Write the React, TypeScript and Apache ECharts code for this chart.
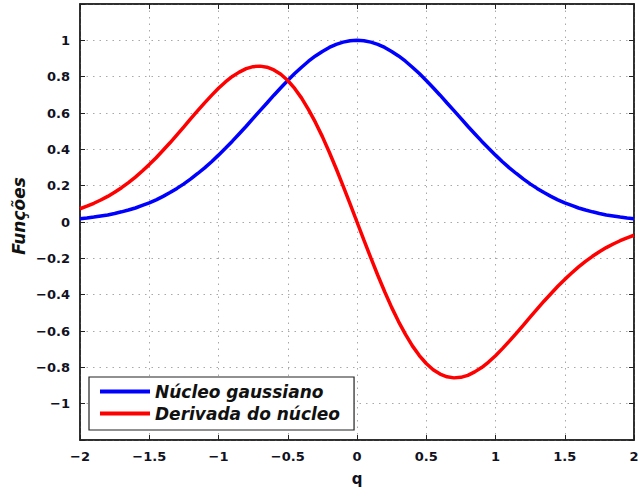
import React, { useEffect, useRef } from "react";
import * as echarts from "echarts";

const qValues = [
  -2.0, -1.95, -1.9, -1.85, -1.8, -1.75, -1.7, -1.65, -1.6, -1.55, -1.5, -1.45, -1.4, -1.35, -1.3, -1.25, -1.2, -1.15,
  -1.1, -1.05, -1.0, -0.95, -0.9, -0.85, -0.8, -0.75, -0.7, -0.65, -0.6, -0.55, -0.5, -0.45, -0.4, -0.35, -0.3, -0.25,
  -0.2, -0.15, -0.1, -0.05, 0.0, 0.05, 0.1, 0.15, 0.2, 0.25, 0.3, 0.35, 0.4, 0.45, 0.5, 0.55, 0.6, 0.65, 0.7, 0.75, 0.8,
  0.85, 0.9, 0.95, 1.0, 1.05, 1.1, 1.15, 1.2, 1.25, 1.3, 1.35, 1.4, 1.45, 1.5, 1.55, 1.6, 1.65, 1.7, 1.75, 1.8, 1.85,
  1.9, 1.95, 2.0,
];
const gaussian = [
  0.018, 0.022, 0.027, 0.033, 0.039, 0.047, 0.056, 0.066, 0.077, 0.091, 0.105, 0.122, 0.141, 0.162, 0.185, 0.21, 0.237,
  0.267, 0.298, 0.332, 0.368, 0.406, 0.445, 0.486, 0.527, 0.57, 0.613, 0.655, 0.698, 0.739, 0.779, 0.817, 0.852, 0.885,
  0.914, 0.939, 0.961, 0.978, 0.99, 0.998, 1.0, 0.998, 0.99, 0.978, 0.961, 0.939, 0.914, 0.885, 0.852, 0.817, 0.779,
  0.739, 0.698, 0.655, 0.613, 0.57, 0.527, 0.486, 0.445, 0.406, 0.368, 0.332, 0.298, 0.267, 0.237, 0.21, 0.185, 0.162,
  0.141, 0.122, 0.105, 0.091, 0.077, 0.066, 0.056, 0.047, 0.039, 0.033, 0.027, 0.022, 0.018,
];
const derivative = [
  0.073, 0.087, 0.103, 0.121, 0.141, 0.164, 0.189, 0.217, 0.247, 0.281, 0.316, 0.354, 0.395, 0.436, 0.48, 0.524, 0.569,
  0.613, 0.656, 0.697, 0.736, 0.771, 0.801, 0.825, 0.844, 0.855, 0.858, 0.852, 0.837, 0.813, 0.779, 0.735, 0.682, 0.619,
  0.548, 0.47, 0.384, 0.293, 0.198, 0.1, 0.0, -0.1, -0.198, -0.293, -0.384, -0.47, -0.548, -0.619, -0.682, -0.735,
  -0.779, -0.813, -0.837, -0.852, -0.858, -0.855, -0.844, -0.825, -0.801, -0.771, -0.736, -0.697, -0.656, -0.613,
  -0.569, -0.524, -0.48, -0.436, -0.395, -0.354, -0.316, -0.281, -0.247, -0.217, -0.189, -0.164, -0.141, -0.121,
  -0.103, -0.087, -0.073,
];
const seriesNames = ["Núcleo gaussiano", "Derivada do núcleo"];
const xTitle = "q";
const yTitle = "Funções";

const fmtX = (v: number) => String(Math.round(v * 10) / 10).replace("-", "\u2212");
const fmtY = (v: number) => (Math.abs(v) > 1.05 ? "" : fmtX(v));

export default function App() {
  const ref = useRef<HTMLDivElement>(null);
  useEffect(() => {
    const chart = echarts.init(ref.current!, undefined, { renderer: "svg" });
    const labelStyle = {
      color: "#111122",
      fontFamily: "DejaVu Sans",
      fontWeight: "bold" as const,
      fontSize: 13,
    };
    const axisLine = { show: true, onZero: false, lineStyle: { color: "#222", width: 1.5 } };
    const axisTick = { show: true, inside: true, length: 5, lineStyle: { color: "#222" } };
    const gridLine = { show: true, lineStyle: { color: "#a8a8a8", type: [1.5, 5] as any, width: 1 } };
    chart.setOption({
      animation: false,
      grid: {
        left: 80,
        width: 554,
        top: 4,
        bottom: 51,
        show: true,
        borderColor: "#222",
        borderWidth: 1.5,
        containLabel: false,
        outerBoundsMode: "none",
      },
      graphic: [
        {
          type: "text",
          x: 19,
          y: 216,
          rotation: Math.PI / 2,
          style: {
            text: yTitle,
            fill: "#111",
            font: "italic bold 17px 'DejaVu Sans'",
            align: "center",
            verticalAlign: "middle",
          },
        },
      ],
      xAxis: [
        {
          type: "value",
          min: -2,
          max: 2,
          interval: 0.5,
          name: xTitle,
          nameLocation: "middle",
          nameGap: 31,
          nameTextStyle: { ...labelStyle, fontSize: 15 },
          axisLine,
          axisTick,
          axisLabel: { ...labelStyle, margin: 10, formatter: (v: number) => fmtX(v) },
          splitLine: gridLine,
        },
        {
          type: "value",
          min: -2,
          max: 2,
          interval: 0.5,
          position: "top",
          axisLine,
          axisTick,
          axisLabel: { show: false },
          splitLine: { show: false },
        },
      ],
      yAxis: [
        {
          type: "value",
          min: -1.2,
          max: 1.2,
          interval: 0.2,
          axisLine,
          axisTick,
          axisLabel: { ...labelStyle, margin: 10, formatter: (v: number) => fmtY(v) },
          splitLine: gridLine,
        },
        {
          type: "value",
          min: -1.2,
          max: 1.2,
          interval: 0.2,
          position: "right",
          axisLine,
          axisTick,
          axisLabel: { show: false },
          splitLine: { show: false },
        },
      ],
      legend: {
        orient: "vertical",
        left: 89,
        top: 377,
        backgroundColor: "#fff",
        borderColor: "#222",
        borderWidth: 1.2,
        borderRadius: 0,
        padding: [6, 14, 8, 11],
        itemGap: 5,
        itemWidth: 50,
        itemHeight: 4,
        icon: "rect",
        textStyle: {
          color: "#111",
          fontFamily: "DejaVu Sans",
          fontWeight: "bold",
          fontStyle: "italic",
          fontSize: 17,
        },
        data: seriesNames,
      },
      series: [
        {
          name: seriesNames[0],
          type: "line",
          smooth: false,
          showSymbol: false,
          color: "#0000ff",
          lineStyle: { width: 3.5, color: "#0000ff" },
          data: qValues.map((q, i) => [q, gaussian[i]]),
          z: 3,
        },
        {
          name: seriesNames[1],
          type: "line",
          smooth: false,
          showSymbol: false,
          color: "#ff0000",
          lineStyle: { width: 3.5, color: "#ff0000" },
          data: qValues.map((q, i) => [q, derivative[i]]),
          z: 4,
        },
      ],
    });
    return () => chart.dispose();
  }, []);
  return <div ref={ref} style={{ width: 638, height: 491, position: "fixed", left: 0, top: 0, background: "#fff" }} />;
}
